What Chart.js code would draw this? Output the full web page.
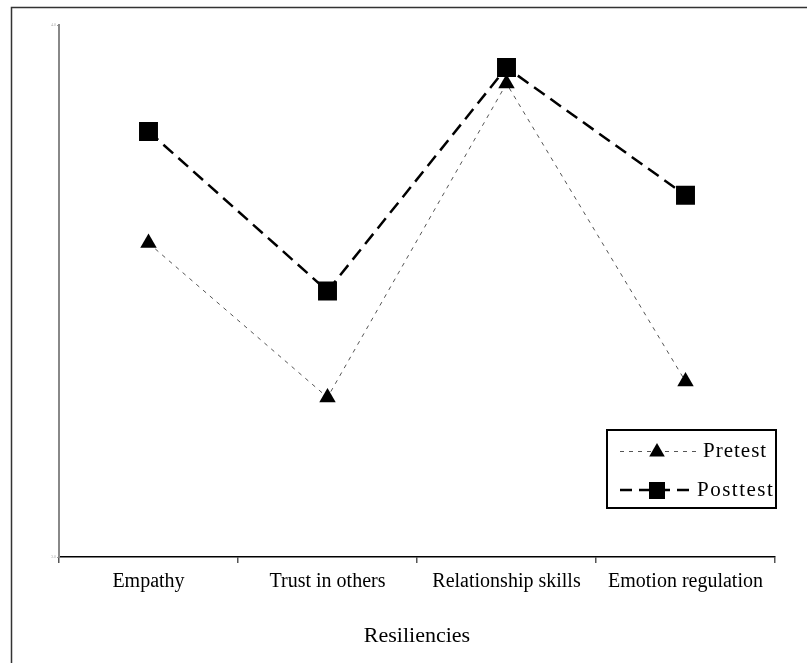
<!DOCTYPE html>
<html>
<head>
<meta charset="utf-8">
<script src="https://cdn.jsdelivr.net/npm/chart.js@4.4.1/dist/chart.umd.min.js"></script>
<style>
  html, body { margin: 0; padding: 0; background: #fff; }
  #wrap { width: 807px; height: 663px; position: relative; }
</style>
</head>
<body>
<div id="wrap"><canvas id="grafico"></canvas></div>
<script>
const CATEGORIAS = ["Empathy", "Trust in others", "Relationship skills", "Emotion regulation"];
const PRETEST = [3.59, 3.30, 3.89, 3.33];
const POSTTEST = [3.80, 3.50, 3.92, 3.68];
const Y_MIN = 3;
const Y_MAX = 4;

const FONTE = "'Liberation Serif', 'Times New Roman', serif";

// moldura externa (só aparecem as bordas esquerda e superior)
const moldura = {
  id: "moldura",
  afterDraw(chart) {
    const ctx = chart.ctx;
    ctx.save();
    ctx.strokeStyle = "#333";
    ctx.lineWidth = 1.5;
    ctx.strokeRect(11.5, 7.5, 820, 700);
    ctx.restore();
  },
};

// legenda desenhada à mão, com caixa
const legenda = {
  id: "legenda",
  afterDraw(chart) {
    const ctx = chart.ctx;
    ctx.save();
    ctx.fillStyle = "#fff";
    ctx.fillRect(607, 430, 169, 78);
    ctx.strokeStyle = "#000";
    ctx.lineWidth = 2;
    ctx.strokeRect(607, 430, 169, 78);

    // Pretest
    ctx.strokeStyle = "#555";
    ctx.lineWidth = 1;
    ctx.setLineDash([4, 5]);
    ctx.beginPath();
    ctx.moveTo(620, 451.5);
    ctx.lineTo(698, 451.5);
    ctx.stroke();
    ctx.setLineDash([]);
    ctx.fillStyle = "#000";
    ctx.beginPath();
    ctx.moveTo(657, 443);
    ctx.lineTo(657 + 7.8, 456.5);
    ctx.lineTo(657 - 7.8, 456.5);
    ctx.closePath();
    ctx.fill();

    // Posttest
    ctx.strokeStyle = "#000";
    ctx.lineWidth = 2.5;
    ctx.setLineDash([12, 7]);
    ctx.beginPath();
    ctx.moveTo(620, 490);
    ctx.lineTo(694, 490);
    ctx.stroke();
    ctx.setLineDash([]);
    ctx.fillRect(649, 482, 16, 17);

    ctx.font = "21px " + FONTE;
    ctx.textBaseline = "middle";
    ctx.textAlign = "left";
    ctx.letterSpacing = "1px";
    ctx.fillText("Pretest", 703, 451);
    ctx.letterSpacing = "1.5px";
    ctx.fillText("Posttest", 697, 490);
    ctx.restore();
  },
};

const ctx = document.getElementById("grafico").getContext("2d");
new Chart(ctx, {
  type: "line",
  data: {
    labels: CATEGORIAS,
    datasets: [
      {
        label: "Pretest",
        data: PRETEST,
        borderColor: "#555",
        borderWidth: 1,
        borderDash: [4, 5],
        pointStyle: "triangle",
        pointRadius: 9.5,
        pointBackgroundColor: "#000",
        pointBorderColor: "#000",
        pointBorderWidth: 0,
        fill: false,
        tension: 0,
      },
      {
        label: "Posttest",
        data: POSTTEST,
        borderColor: "#000",
        borderWidth: 2.5,
        borderDash: [13, 7],
        pointStyle: "rect",
        pointRadius: 13.4,
        pointBackgroundColor: "#000",
        pointBorderColor: "#000",
        pointBorderWidth: 0,
        fill: false,
        tension: 0,
      },
    ],
  },
  options: {
    responsive: true,
    maintainAspectRatio: false,
    animation: false,
    events: [],
    layout: { padding: { left: 19, right: 32, top: 25, bottom: 0 } },
    plugins: {
      legend: { display: false },
      tooltip: { enabled: false },
    },
    scales: {
      x: {
        offset: true,
        afterFit(scale) { scale.height = 106; },
        border: { display: true, color: "#000", width: 1.5 },
        grid: {
          display: true,
          offset: true,
          drawOnChartArea: false,
          drawTicks: true,
          tickLength: 6,
          color: "#555",
          lineWidth: 1.5,
        },
        ticks: {
          color: "#000",
          padding: 7,
          font: { family: FONTE, size: 20 },
          maxRotation: 0,
          autoSkip: false,
        },
        title: {
          display: true,
          text: "Resiliencies",
          color: "#000",
          font: { family: FONTE, size: 22 },
          padding: { top: 0, bottom: 14 },
        },
      },
      y: {
        min: Y_MIN,
        max: Y_MAX,
        afterFit(scale) { scale.width = 40; },
        border: { display: true, color: "#888", width: 2 },
        grid: {
          display: true,
          drawOnChartArea: false,
          drawTicks: true,
          tickLength: 2,
          color: "#999",
        },
        ticks: {
          stepSize: 1,
          color: "#aaa",
          padding: 1,
          font: { family: FONTE, size: 4 },
          callback: (v) => v.toFixed(1),
        },
      },
    },
  },
  plugins: [moldura, legenda],
});
</script>
</body>
</html>
